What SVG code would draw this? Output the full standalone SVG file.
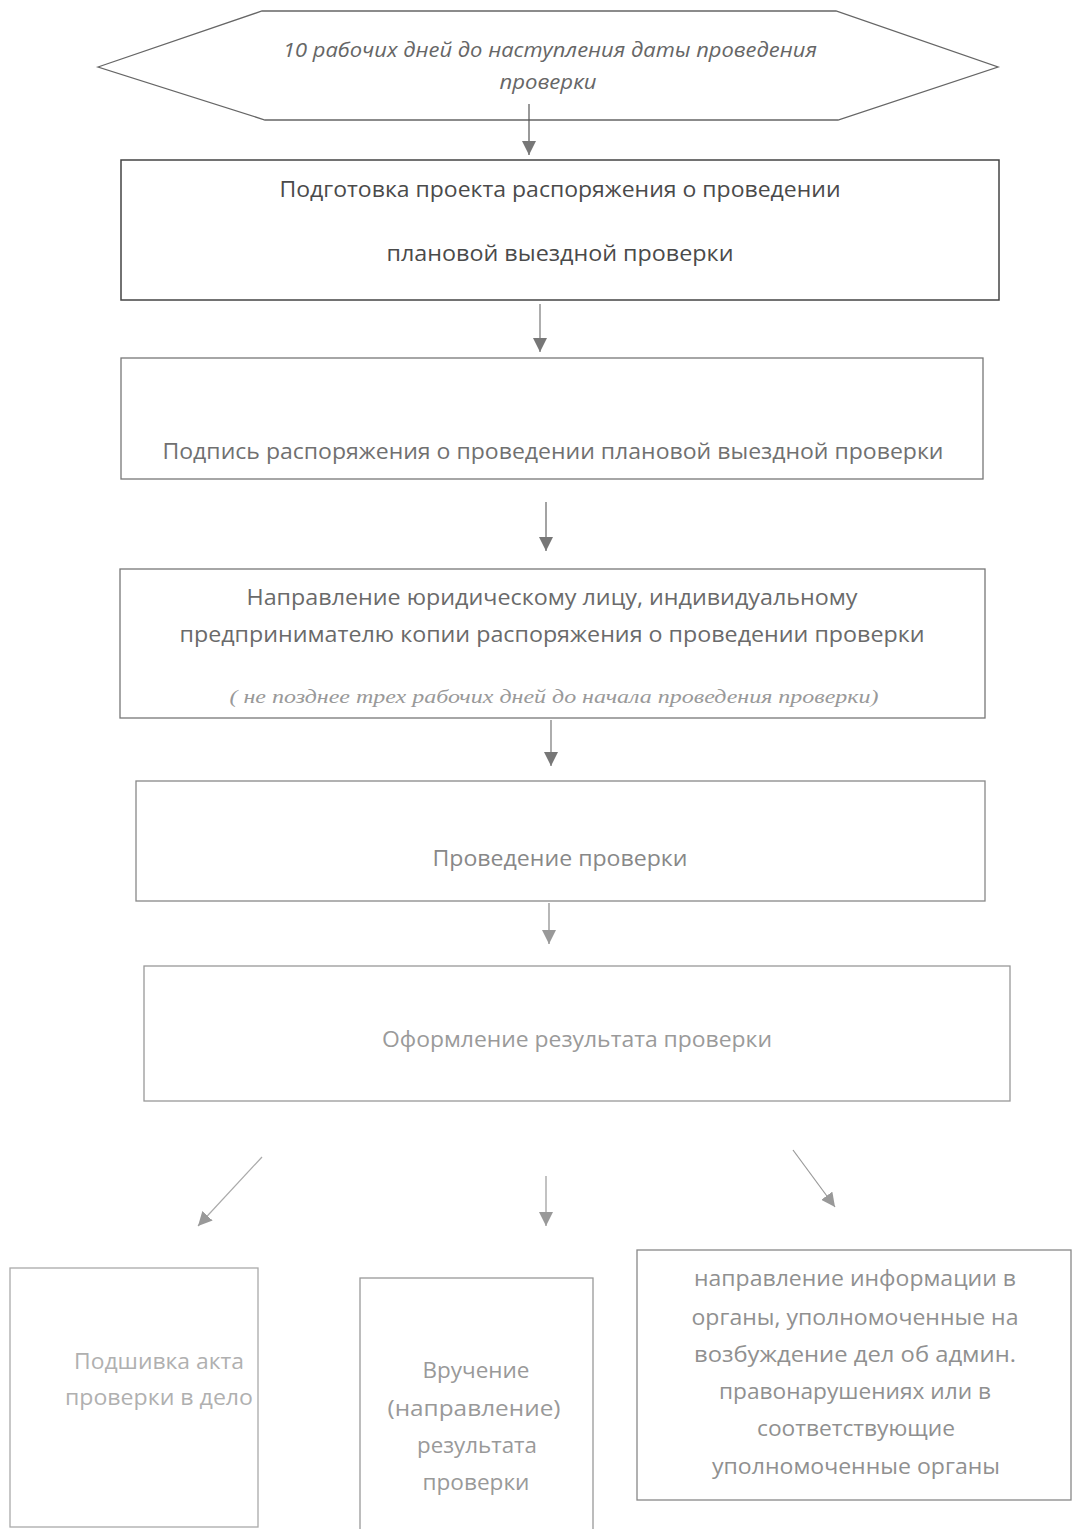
<svg xmlns="http://www.w3.org/2000/svg" width="1072" height="1529" viewBox="0 0 1072 1529">
<defs>
<marker id="ahd" viewBox="0 0 10 10" refX="10" refY="5" markerWidth="14" markerHeight="14" markerUnits="userSpaceOnUse" orient="auto">
<path d="M0,0 L10,5 L0,10 z" fill="#777"/>
</marker>
<marker id="ahl" viewBox="0 0 10 10" refX="10" refY="5" markerWidth="14" markerHeight="14" markerUnits="userSpaceOnUse" orient="auto">
<path d="M0,0 L10,5 L0,10 z" fill="#999"/>
</marker>
</defs>
<style>
.box{fill:#fff;stroke:#777;stroke-width:1.3}
.t{font-family:"Open Sans","Noto Sans","DejaVu Sans",sans-serif;font-size:21px;text-anchor:middle}
.ti{font-family:"Open Sans","Noto Sans",sans-serif;font-style:italic;font-size:20px;text-anchor:middle;fill:#666}
.ts{font-family:"Liberation Serif","Times New Roman",serif;font-style:italic;font-size:18px;text-anchor:middle;fill:#999}
.c{fill:none;stroke-width:1.2}
</style>
<rect width="1072" height="1529" fill="#fff"/>

<g id="n0">
<polygon points="98,67 262,11 836,11 998,67 838,120 265,120" fill="#fff" stroke="#666" stroke-width="1.3"/>
<text class="ti" x="550" y="57" textLength="534" lengthAdjust="spacingAndGlyphs">10 рабочих дней до  наступления даты проведения</text>
<text class="ti" x="548" y="89" textLength="97" lengthAdjust="spacingAndGlyphs">проверки</text>
</g>

<g id="n1">
<rect class="box" x="121" y="160" width="878" height="140" style="stroke:#444;stroke-width:1.5"/>
<text class="t" x="560" y="197" fill="#4a4a4a" textLength="561" lengthAdjust="spacingAndGlyphs">Подготовка проекта распоряжения о проведении</text>
<text class="t" x="560" y="261" fill="#4a4a4a" textLength="347" lengthAdjust="spacingAndGlyphs">плановой  выездной проверки</text>
</g>

<g id="n2">
<rect class="box" x="121" y="358" width="862" height="121"/>
<text class="t" x="553" y="459" fill="#707070" textLength="781" lengthAdjust="spacingAndGlyphs">Подпись распоряжения о проведении плановой выездной проверки</text>
</g>

<g id="n3">
<rect class="box" x="120" y="569" width="865" height="149"/>
<text class="t" x="552" y="605" fill="#6a6a6a" textLength="611" lengthAdjust="spacingAndGlyphs">Направление юридическому лицу, индивидуальному</text>
<text class="t" x="552" y="642" fill="#6a6a6a" textLength="745" lengthAdjust="spacingAndGlyphs">предпринимателю копии распоряжения  о проведении проверки</text>
<text class="ts" x="554" y="703" textLength="649" lengthAdjust="spacingAndGlyphs">( не позднее трех рабочих дней до начала проведения проверки)</text>
</g>

<g id="n4">
<rect class="box" x="136" y="781" width="849" height="120" style="stroke:#888"/>
<text class="t" x="560" y="866" fill="#888" textLength="255" lengthAdjust="spacingAndGlyphs">Проведение проверки</text>
</g>

<g id="n5">
<rect class="box" x="144" y="966" width="866" height="135" style="stroke:#999"/>
<text class="t" x="577" y="1047" fill="#9a9a9a" textLength="390" lengthAdjust="spacingAndGlyphs">Оформление результата проверки</text>
</g>

<g id="n6">
<rect class="box" x="10" y="1268" width="248" height="259" style="stroke:#aaa"/>
<text class="t" x="159" y="1369" fill="#b0b0b0" textLength="170" lengthAdjust="spacingAndGlyphs">Подшивка акта</text>
<text class="t" x="159" y="1405" fill="#b0b0b0" textLength="188" lengthAdjust="spacingAndGlyphs">проверки в дело</text>
</g>

<g id="n7">
<rect class="box" x="360" y="1278" width="233" height="260" style="stroke:#999"/>
<text class="t" x="476" y="1378" fill="#999" textLength="107" lengthAdjust="spacingAndGlyphs">Вручение</text>
<text class="t" x="474" y="1416" fill="#999" textLength="173" lengthAdjust="spacingAndGlyphs">(направление)</text>
<text class="t" x="477" y="1453" fill="#999" textLength="120" lengthAdjust="spacingAndGlyphs">результата</text>
<text class="t" x="476" y="1490" fill="#999" textLength="107" lengthAdjust="spacingAndGlyphs">проверки</text>
</g>

<g id="n8">
<rect class="box" x="637" y="1250" width="434" height="250" style="stroke:#888"/>
<text class="t" x="855" y="1286" fill="#909090" textLength="322" lengthAdjust="spacingAndGlyphs">направление информации в</text>
<text class="t" x="855" y="1325" fill="#909090" textLength="327" lengthAdjust="spacingAndGlyphs">органы, уполномоченные на</text>
<text class="t" x="855" y="1362" fill="#909090" textLength="322" lengthAdjust="spacingAndGlyphs">возбуждение дел об админ.</text>
<text class="t" x="855" y="1399" fill="#909090" textLength="272" lengthAdjust="spacingAndGlyphs">правонарушениях или в</text>
<text class="t" x="856" y="1436" fill="#909090" textLength="198" lengthAdjust="spacingAndGlyphs">соответствующие</text>
<text class="t" x="856" y="1474" fill="#909090" textLength="288" lengthAdjust="spacingAndGlyphs">уполномоченные органы</text>
</g>

<g id="connectors">
<line class="c" x1="529" y1="104" x2="529" y2="155" stroke="#555" marker-end="url(#ahd)"/>
<line class="c" x1="540" y1="304" x2="540" y2="352" stroke="#777" marker-end="url(#ahd)"/>
<line class="c" x1="546" y1="502" x2="546" y2="551" stroke="#666" marker-end="url(#ahd)"/>
<line class="c" x1="551" y1="720" x2="551" y2="766" stroke="#777" marker-end="url(#ahd)"/>
<line class="c" x1="549" y1="903" x2="549" y2="944" stroke="#888" marker-end="url(#ahl)"/>
<line class="c" x1="262" y1="1157" x2="198" y2="1226" stroke="#aaa" marker-end="url(#ahl)"/>
<line class="c" x1="546" y1="1176" x2="546" y2="1226" stroke="#999" marker-end="url(#ahl)"/>
<line class="c" x1="793" y1="1150" x2="835" y2="1207" stroke="#999" marker-end="url(#ahl)"/>
</g>
</svg>
